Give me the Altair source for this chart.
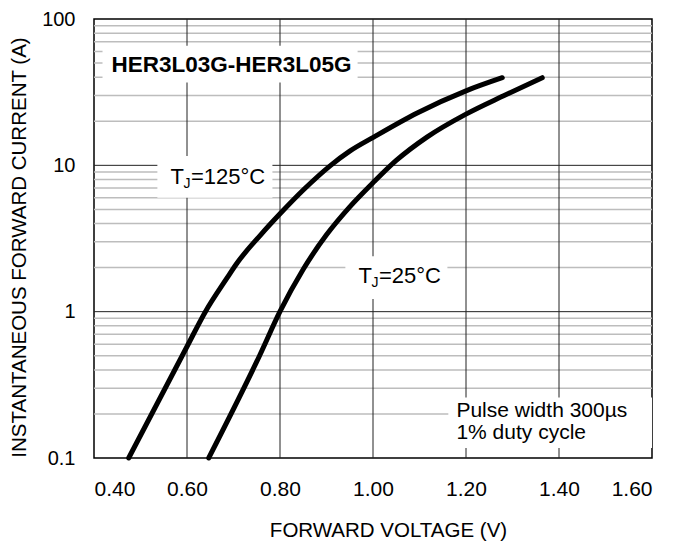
import altair as alt
import pandas as pd

# ---- data ----
v_125 = [0.4746, 0.6009, 0.6396, 0.6862, 0.7077, 0.7585, 0.801, 0.85, 0.909, 0.95, 1.0016, 1.095, 1.2, 1.278]
i_125 = [0.1, 0.585, 1.0, 1.70, 2.15, 3.35, 4.7, 6.78, 10.0, 12.5, 15.6, 22.8, 32.3, 39.7]
v_25 = [0.6467, 0.756, 0.7998, 0.85, 0.90, 0.95, 1.0, 1.05, 1.116, 1.2, 1.281, 1.364]
i_25 = [0.1, 0.5, 1.0, 1.95, 3.35, 5.2, 7.6, 10.8, 15.6, 22.4, 29.9, 39.7]

x_ticks = [0.4, 0.6, 0.8, 1.0, 1.2, 1.4, 1.6]
y_ticks = [0.1, 1, 10, 100]
x_grid = [0.6, 0.8, 1.0, 1.2, 1.4]
y_major_grid = [1, 10]
y_minor_grid = [k * d for d in (0.1, 1, 10) for k in range(2, 10)]

# label boxes (white backgrounds) in data units
box_v1 = [0.4183, 0.5363, 0.9406, 1.162]
box_v2 = [0.9669, 0.7837, 1.160, 1.6]
box_i1 = [36.8, 6.0, 1.22, 0.117]
box_i2 = [65.6, 11.56, 2.39, 0.2594]

title_text = ["HER3L03G-HER3L05G"]
title_v = [0.6955]
title_i = [48.8]

main_text = ["T", "T"]
main_v = [0.5643, 0.9686]
main_i = [8.34, 1.746]

note_text = ["Pulse width 300µs", "1% duty cycle"]
note_v = [1.1794, 1.1794]
note_i = [0.208, 0.148]

sub_text = ["J", "J"]
sub_v = [0.5643, 0.9686]
sub_i = [8.34, 1.746]

rest_text = ["=125°C", "=25°C"]
rest_v = [0.5643, 0.9686]
rest_i = [8.34, 1.746]

FONT = "Liberation Sans"

curves = pd.DataFrame(
    {"V": v_125 + v_25,
     "I": i_125 + i_25,
     "T": ["125"] * len(v_125) + ["25"] * len(v_25),
     "order": list(range(len(v_125))) + list(range(len(v_25)))}
)

xscale = alt.Scale(domain=[0.4, 1.6], nice=False, zero=False)
yscale = alt.Scale(type="log", domain=[0.1, 100], nice=False)

xaxis = alt.Axis(values=x_ticks, format=".2f", grid=False, ticks=False, domain=False,
                 labelFont=FONT, labelFontSize=21, labelColor="black",
                 labelPadding=31, labelBaseline="middle",
                 title="FORWARD VOLTAGE (V)", titleFont=FONT, titleFontSize=20.5,
                 titleFontWeight="normal", titleColor="black",
                 titleX=294, titleY=72, titleAlign="center", titleBaseline="middle",
                 titleAnchor="start")
yaxis = alt.Axis(values=y_ticks, format="~g", grid=False, ticks=False, domain=False,
                 labelFont=FONT, labelFontSize=20, labelColor="black", labelPadding=19,
                 title="INSTANTANEOUS FORWARD CURRENT (A)", titleFont=FONT, titleFontSize=20.5,
                 titleFontWeight="normal", titleColor="black",
                 titleX=-75, titleY=228, titleAngle=-90, titleAlign="center",
                 titleBaseline="middle", titleAnchor="start")

minor = alt.Chart(pd.DataFrame({"y": y_minor_grid})).mark_rule(
    color="#bdbdbd", strokeWidth=1.5).encode(y=alt.Y("y:Q", scale=yscale, axis=yaxis))
major = alt.Chart(pd.DataFrame({"y": y_major_grid})).mark_rule(
    color="#222222", strokeWidth=1).encode(y=alt.Y("y:Q", scale=yscale))
vgrid = alt.Chart(pd.DataFrame({"x": x_grid})).mark_rule(
    color="#222222", strokeWidth=1).encode(x=alt.X("x:Q", scale=xscale, axis=xaxis))

boxes = alt.Chart(pd.DataFrame({"v1": box_v1, "v2": box_v2, "i1": box_i1, "i2": box_i2})).mark_rect(
    color="white").encode(
    x=alt.X("v1:Q", scale=xscale), x2="v2:Q",
    y=alt.Y("i1:Q", scale=yscale), y2="i2:Q")

lines = alt.Chart(curves).mark_line(
    color="black", strokeWidth=5, interpolate="monotone", strokeCap="round", strokeJoin="round").encode(
    x=alt.X("V:Q", scale=xscale), y=alt.Y("I:Q", scale=yscale),
    detail="T:N", order="order:Q")

t_title = alt.Chart(pd.DataFrame({"t": title_text, "v": title_v, "i": title_i})).mark_text(
    font=FONT, fontSize=22.5, fontWeight="bold", color="black", align="center", baseline="middle").encode(
    x=alt.X("v:Q", scale=xscale), y=alt.Y("i:Q", scale=yscale), text="t:N")
t_main = alt.Chart(pd.DataFrame({"t": main_text, "v": main_v, "i": main_i})).mark_text(
    font=FONT, fontSize=22, color="black", align="left", baseline="middle").encode(
    x=alt.X("v:Q", scale=xscale), y=alt.Y("i:Q", scale=yscale), text="t:N")
t_note = alt.Chart(pd.DataFrame({"t": note_text, "v": note_v, "i": note_i})).mark_text(
    font=FONT, fontSize=21, color="black", align="left", baseline="middle").encode(
    x=alt.X("v:Q", scale=xscale), y=alt.Y("i:Q", scale=yscale), text="t:N")
t_sub = alt.Chart(pd.DataFrame({"t": sub_text, "v": sub_v, "i": sub_i})).mark_text(
    font=FONT, fontSize=14, color="black", align="left", baseline="middle", dx=13, dy=7).encode(
    x=alt.X("v:Q", scale=xscale), y=alt.Y("i:Q", scale=yscale), text="t:N")
t_rest = alt.Chart(pd.DataFrame({"t": rest_text, "v": rest_v, "i": rest_i})).mark_text(
    font=FONT, fontSize=22, color="black", align="left", baseline="middle", dx=20.5).encode(
    x=alt.X("v:Q", scale=xscale), y=alt.Y("i:Q", scale=yscale), text="t:N")

chart = alt.layer(minor, major, vgrid, boxes, lines, t_title, t_main, t_note, t_sub, t_rest).properties(
    width=558, height=439,
    autosize=alt.AutoSizeParams(type="none"),
    padding={"left": 86, "top": 11, "right": 12, "bottom": 84},
    background="white",
).configure_view(stroke="black", strokeWidth=1.5)

chart.save("out.html", embed_options={"renderer": "svg", "actions": False})
